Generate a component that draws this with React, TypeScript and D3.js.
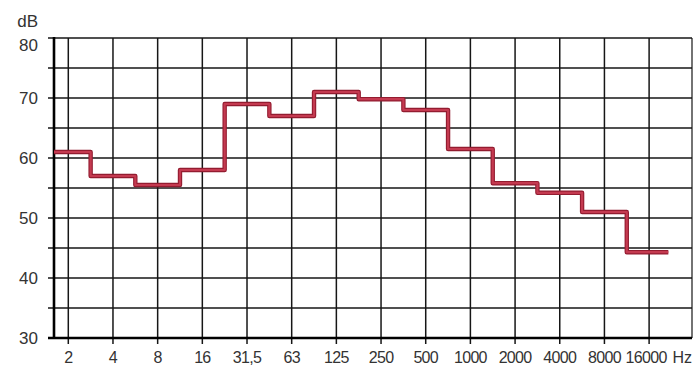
import React from 'react';
import * as d3 from 'd3';

const bands = ['2', '4', '8', '16', '31,5', '63', '125', '250', '500', '1000', '2000', '4000', '8000', '16000'];
const levels = [61, 57, 55.5, 58, 69, 67, 71, 69.8, 68, 61.5, 55.8, 54.2, 51, 44.3];
const yTicks = [30, 40, 50, 60, 70, 80];
const yGrid = [30, 35, 40, 45, 50, 55, 60, 65, 70, 75, 80];

const W = 695, H = 367;
const font = '"Liberation Sans", Arial, sans-serif';

export default function App() {
  const x = d3.scaleLinear().domain([-0.32, 13.96]).range([54, 692]);
  const y = d3.scaleLinear().domain([30, 80]).range([338, 38]);

  // step line: each band holds its level from midpoint to midpoint
  const pts: [number, number][] = [[-0.32, levels[0]]];
  levels.forEach((v, i) => pts.push([i, v]));
  pts.push([13.43, levels[levels.length - 1]]);
  const line = d3.line<[number, number]>()
    .x(d => x(d[0]))
    .y(d => y(d[1]))
    .curve(d3.curveStep);
  const path = line(pts) || '';

  const [x0, x1] = x.range();
  const gridColor = '#161616';
  const last = bands.length - 1;

  return (
    <svg width={W} height={H} style={{ position: 'absolute', left: 0, top: 0, background: '#fff' }}>
      {/* horizontal grid + left ticks */}
      {yGrid.map(v => (
        <line key={'h' + v} x1={x0 - 6} x2={x1} y1={y(v)} y2={y(v)} stroke={gridColor} strokeWidth={1.5} />
      ))}
      {/* vertical grid + bottom ticks */}
      {bands.map((b, i) => (
        <line key={'v' + b} x1={x(i)} x2={x(i)} y1={y(80)} y2={y(30) + 6} stroke={gridColor} strokeWidth={1.5} />
      ))}
      <line x1={x1} x2={x1} y1={y(80)} y2={y(30)} stroke={gridColor} strokeWidth={1.2} />
      {/* heavier axes */}
      <line x1={x0} x2={x0} y1={y(80) - 1} y2={y(30) + 1} stroke="#000" strokeWidth={2.6} />
      <line x1={x0 - 6} x2={x1} y1={y(30)} y2={y(30)} stroke="#000" strokeWidth={2.4} />

      <path d={path} fill="none" stroke="#931c30" strokeWidth={4.4} strokeLinejoin="round" />
      <path d={path} fill="none" stroke="#c43a50" strokeWidth={2.2} strokeLinejoin="round" />

      {yTicks.map(v => (
        <text key={'yl' + v} x={38} y={y(v) + (v === 80 ? 13 : 6)} textAnchor="end"
          fontFamily={font} fontSize={17} fill="#333">{v}</text>
      ))}
      <text x={38} y={27} textAnchor="end" fontFamily={font} fontSize={17} fill="#333">dB</text>

      {bands.map((b, i) => (
        <text key={'xl' + b} x={x(i)} dx={i === last ? -3 : 0} y={363} textAnchor="middle" letterSpacing={-0.7}
          fontFamily={font} fontSize={16} fill="#333">{b}</text>
      ))}
      <text x={692} y={363} textAnchor="end" fontFamily={font} fontSize={16} fill="#333">Hz</text>
    </svg>
  );
}
